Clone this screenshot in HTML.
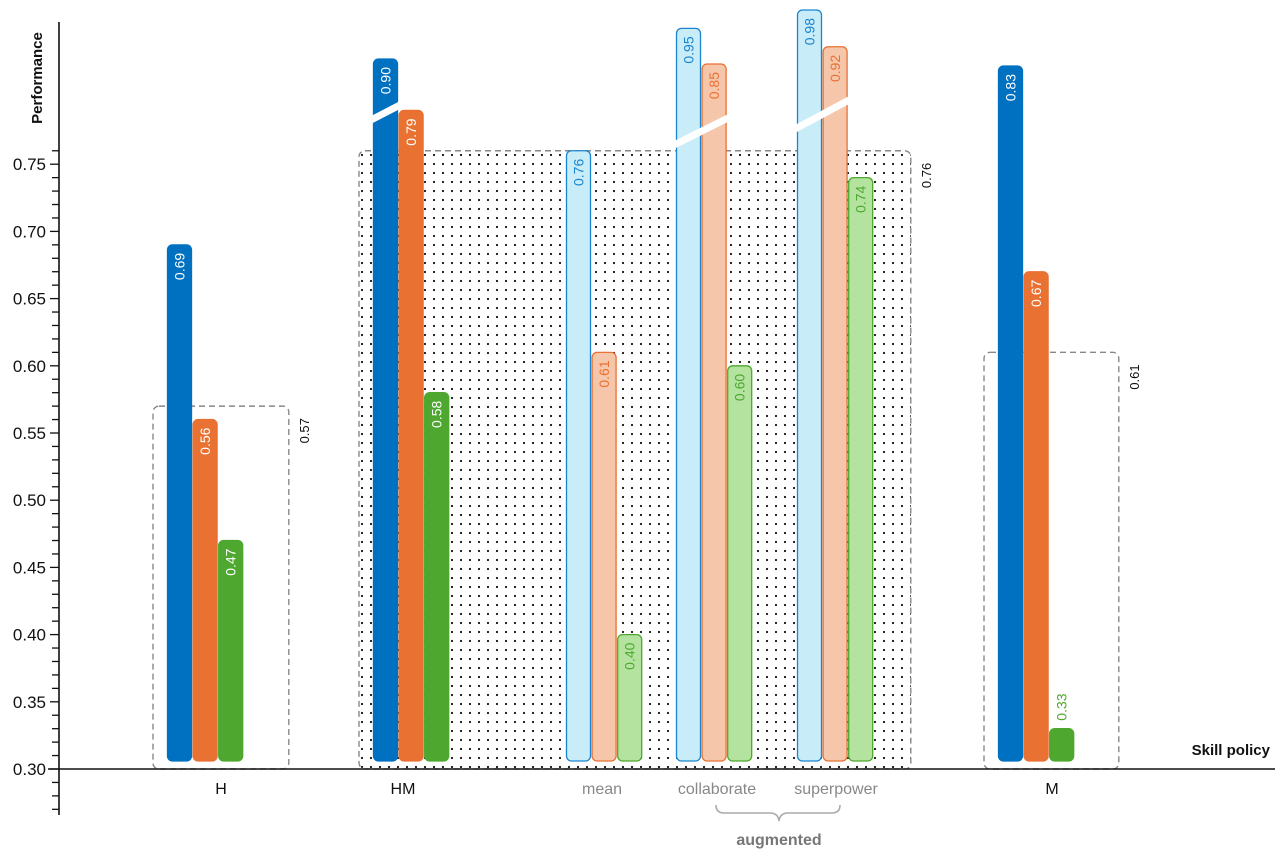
<!DOCTYPE html>
<html><head><meta charset="utf-8"><style>
body{margin:0;background:#fff}
svg{display:block;font-family:"Liberation Sans",sans-serif}
</style></head><body>
<svg id="c" width="1275" height="849" viewBox="0 0 1275 849">
<defs>
<pattern id="dots" width="9" height="9" patternUnits="userSpaceOnUse"><circle cx="2" cy="2" r="1.1" fill="#111"/></pattern>
</defs>
<g id="plot"></g>
</svg>
<script>
const groups = ["H","HM","mean","collaborate","superpower","M"];
const blueVals = [0.69,0.90,0.76,0.95,0.98,0.83];
const orangeVals = [0.56,0.79,0.61,0.85,0.92,0.67];
const greenVals = [0.47,0.58,0.40,0.60,0.74,0.33];
const boxGroups = [["H"],["HM","mean","collaborate","superpower"],["M"]];
const boxVals = [0.57,0.76,0.61];
const yTicks = [0.30,0.35,0.40,0.45,0.50,0.55,0.60,0.65,0.70,0.75];

const NS="http://www.w3.org/2000/svg";
const g=document.getElementById('plot');
function el(t,a,txt){const e=document.createElementNS(NS,t);for(const k in a)e.setAttribute(k,a[k]);if(txt!==undefined)e.textContent=txt;g.appendChild(e);return e;}
function yLin(v){return 769-(v-0.30)*1344;}
const brkD=[0.80,0.83,0.90,0.98], brkR=[97,66,59,10];
function y(v){
  if(v<=0.8)return yLin(v);
  for(let i=1;i<brkD.length;i++){
    if(v<=brkD[i]||i===brkD.length-1){const t=(v-brkD[i-1])/(brkD[i]-brkD[i-1]);return brkR[i-1]+t*(brkR[i]-brkR[i-1]);}
  }
}
const groupX={H:167,HM:373,mean:566,collaborate:676,superpower:797,M:998};
const labelX={H:221,HM:403,mean:602,collaborate:717,superpower:836,M:1052};
const boxPadR=[46,38,45];
const light={mean:1,collaborate:1,superpower:1};
const bw=25, step=25.6, base=761;

boxGroups.forEach((bg,i)=>{
  const x0=groupX[bg[0]]-14, x1=groupX[bg[bg.length-1]]+3*step-1+boxPadR[i];
  const yt=y(boxVals[i]);
  const r=el('rect',{x:x0,y:yt,width:x1-x0,height:769-yt,rx:6,fill:i===1?'url(#dots)':'none',stroke:'#888','stroke-width':1.4,'stroke-dasharray':'6,4'});
  
  
  const tx=x1+20, ty=yt+12;
  const t=el('text',{x:tx,y:ty,'font-size':13,fill:'#111','text-anchor':'end',transform:`rotate(-90 ${tx} ${ty})`},boxVals[i].toFixed(2));
  
  
});

const series=[
 {vals:blueVals,dark:'#0070c0',lf:'#c9ecf9',ls:'#1a85d0'},
 {vals:orangeVals,dark:'#e97132',lf:'#f6c6ab',ls:'#e97132'},
 {vals:greenVals,dark:'#4ea72e',lf:'#b4e3a0',ls:'#4ea72e'}];
groups.forEach((gr,gi)=>{
  series.forEach((s,si)=>{
    const v=s.vals[gi];const x=groupX[gr]+si*step;const yt=y(v);
    const isL=light[gr];
    const r=el('rect',{x:x+0.5,y:yt,width:bw-1,height:base-yt,rx:5,fill:isL?s.lf:s.dark,stroke:isL?s.ls:s.dark,'stroke-width':1.3});
    
    
    const small=(base-yt)<50;
    const lx=x+bw/2+5, ly=small?yt-8:yt+8;
    const t=el('text',{x:lx,y:ly,'font-size':14,fill:isL||small?s.ls:'#fff','text-anchor':small?'start':'end',transform:`rotate(-90 ${lx} ${ly})`},v.toFixed(2));
    
    
  });
  const xl=el('text',{x:labelX[gr],y:794,'font-size':16,fill:light[gr]?'#888':'#111','text-anchor':'middle'},gr);
  
  
});
[[371,120,400,105],[674,145,728,118],[795,129,851,99]].forEach((b,i)=>{
  const l=el('line',{x1:b[0],y1:b[1],x2:b[2],y2:b[3],stroke:'#fff','stroke-width':7});
  
  
});

const xa=el('line',{x1:48,y1:769,x2:1275,y2:769,stroke:'#111','stroke-width':1.6});


const ya=el('line',{x1:59,y1:22,x2:59,y2:815,stroke:'#111','stroke-width':1.6});


for(let k=-3;k<=46;k++){const yy=769-k*13.44;if(yy<150)continue;
  const major=k%5===0&&k>=0;
  const tk=el('line',{x1:major?50:52,y1:yy,x2:59,y2:yy,stroke:'#111','stroke-width':1.3});
  
  }
yTicks.forEach(v=>{const t=el('text',{x:46,y:y(v)+6,'font-size':17,fill:'#111','text-anchor':'end'},v.toFixed(2));
  
  });
const yt=el('text',{x:42,y:78,'font-size':15,'font-weight':'bold',fill:'#111','text-anchor':'middle',transform:'rotate(-90 42 78)'},'Performance');


const xt=el('text',{x:1270,y:755,'font-size':15,'font-weight':'bold',fill:'#111','text-anchor':'end'},'Skill policy');


const br=el('path',{d:'M716,805 Q716,813 724,813 L770,813 Q778,813 779,821 Q780,813 788,813 L832,813 Q840,813 840,805',fill:'none',stroke:'#aaa','stroke-width':1.6});


const au=el('text',{x:779,y:845,'font-size':16,'font-weight':'bold',fill:'#777','text-anchor':'middle'},'augmented');


</script>
</body></html>
